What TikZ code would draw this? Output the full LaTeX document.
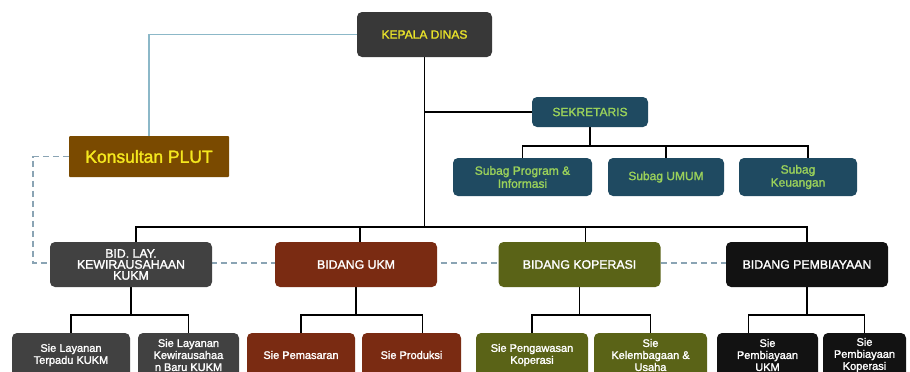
\documentclass[tikz,border=0pt]{standalone}
\usepackage{fontspec}
\setmainfont{Liberation Sans}[BoldFont={Liberation Sans}, BoldFeatures={FakeBold=1.6}]
\usetikzlibrary{calc,backgrounds}
\definecolor{kepfill}{HTML}{383838}
\definecolor{yel}{HTML}{E8E22A}
\definecolor{konfill}{HTML}{7A4A00}
\definecolor{konyel}{HTML}{F5E81E}
\definecolor{sekfill}{HTML}{1F4A61}
\definecolor{sektext}{HTML}{9AD15A}
\definecolor{grayfill}{HTML}{414141}
\definecolor{ukmfill}{HTML}{7A2B12}
\definecolor{kopfill}{HTML}{5A6317}
\definecolor{pemfill}{HTML}{121212}
\definecolor{bluel}{HTML}{8CB8C8}
\definecolor{dashc}{HTML}{8AA4B4}
\begin{document}
\begin{tikzpicture}[x=1pt,y=-1pt,
  box/.style={rectangle, rounded corners=5pt, align=center, inner sep=1pt},
  kepbox/.style={box, fill=kepfill, text=yel, font=\bfseries\fontsize{12}{13}\selectfont, minimum width=135pt, minimum height=45pt},
  konbox/.style={rectangle, rounded corners=1pt, fill=konfill, text=konyel, font=\bfseries\fontsize{17.5}{19}\selectfont, minimum width=160pt, minimum height=41pt},
  sekbox/.style={box, fill=sekfill, text=sektext, font=\bfseries\fontsize{12}{13}\selectfont, minimum height=#1},
  bidbox/.style={box, text=white, font=\bfseries\fontsize{12.3}{11}\selectfont, minimum width=162pt, minimum height=45pt},
  subbox/.style={box, text=white, font=\bfseries\fontsize{11}{12}\selectfont, minimum height=44pt},
  blk/.style={draw=black, line width=1.9pt},
  lblue/.style={draw=bluel, line width=1.5pt},
  dsh/.style={draw=dashc, line width=1.3pt, dash pattern=on 6pt off 4pt}
]
\useasboundingbox (0,0) rectangle (910,372);

% top
\node[kepbox] (kepala) at (424.5,34.5) {KEPALA DINAS};
\node[konbox] (kons) at (149,156.5) {Konsultan PLUT};
\node[sekbox=30pt, minimum width=116pt] (sek) at (590,112) {SEKRETARIS};
\node[sekbox=38pt, minimum width=139pt] (sb1) at (522.5,177) {Subag Program \&\\Informasi};
\node[sekbox=38pt, minimum width=116pt] (sb2) at (666,177) {Subag UMUM};
\node[sekbox=38pt, minimum width=118pt] (sb3) at (798,177) {Subag\\Keuangan};

% bidang
\node[bidbox, fill=grayfill] (bidlay) at (131,264.5) {BID. LAY.\\KEWIRAUSAHAAN\\KUKM};
\node[bidbox, fill=ukmfill] (ukm) at (356,264.5) {BIDANG UKM};
\node[bidbox, fill=kopfill] (kop) at (579.5,264.5) {BIDANG KOPERASI};
\node[bidbox, fill=pemfill] (pemb) at (807,264.5) {BIDANG PEMBIAYAAN};

% sie
\node[subbox, fill=grayfill, minimum width=118pt] (s1) at (71,355) {Sie Layanan\\Terpadu KUKM};
\node[subbox, fill=grayfill, minimum width=101pt] (s2) at (188.5,355) {Sie Layanan\\Kewirausahaa\\n Baru KUKM};
\node[subbox, fill=ukmfill, minimum width=108pt] (s3) at (301,355) {Sie Pemasaran};
\node[subbox, fill=ukmfill, minimum width=99pt] (s4) at (411.5,355) {Sie Produksi};
\node[subbox, fill=kopfill, minimum width=112pt] (s5) at (532,355) {Sie Pengawasan\\Koperasi};
\node[subbox, fill=kopfill, minimum width=113pt] (s6) at (650.5,355) {Sie\\Kelembagaan \&\\Usaha};
\node[subbox, fill=pemfill, minimum width=101pt] (s7) at (767.5,355) {Sie\\Pembiayaan\\UKM};
\node[subbox, fill=pemfill, minimum width=83pt] (s8) at (864.5,355) {Sie\\Pembiayaan\\Koperasi};

\coordinate (yBid) at (0,227);
\coordinate (ySub) at (0,146);
\coordinate (yLow) at (0,315);
\coordinate (xDash) at (33,0);
\coordinate (yDash) at (0,263);
% drop points (slightly off-centre, as in the reference)
\coordinate (sb3d) at ($(sb3.north)+(10,0)$);
\coordinate (bidlayd) at ($(bidlay.north)+(5,0)$);
\coordinate (ukmd) at ($(ukm.north)+(4,0)$);
\coordinate (kopd) at ($(kop.north)+(6,0)$);
\coordinate (s4d) at ($(s4.north)+(11,0)$);
\coordinate (s7d) at ($(s7.north)+(-19,0)$);

\begin{pgfonlayer}{background}
\draw[dsh] (kons.west) -| (xDash |- yDash) -- (pemb.west |- yDash);
\draw[lblue] (kepala.west) -| (kons.north);
\draw[blk] (kepala.south) -- (kepala.south |- yBid);
\draw[blk] (kepala.south |- sek.west) -- (sek.west);
\draw[blk] (sek.south) -- (sek.south |- ySub);
\draw[blk] (sb1.north) |- (sb3d |- ySub) -- (sb3d);
\draw[blk] (sb2.north) -- (sb2.north |- ySub);
\draw[blk] (bidlayd) |- (pemb.north |- yBid) -- (pemb.north);
\draw[blk] (ukmd) -- (ukmd |- yBid);
\draw[blk] (kopd) -- (kopd |- yBid);
\draw[blk] (bidlay.south) -- (bidlay.south |- yLow);
\draw[blk] (s1.north) |- (s2.north |- yLow) -- (s2.north);
\draw[blk] (ukm.south) -- (ukm.south |- yLow);
\draw[blk] (s3.north) |- (s4d |- yLow) -- (s4d);
\draw[blk] (kop.south) -- (kop.south |- yLow);
\draw[blk] (s5.north) |- (s6.north |- yLow) -- (s6.north);
\draw[blk] (pemb.south) -- (pemb.south |- yLow);
\draw[blk] (s7d) |- (s8.north |- yLow) -- (s8.north);
\end{pgfonlayer}
\end{tikzpicture}
\end{document}
